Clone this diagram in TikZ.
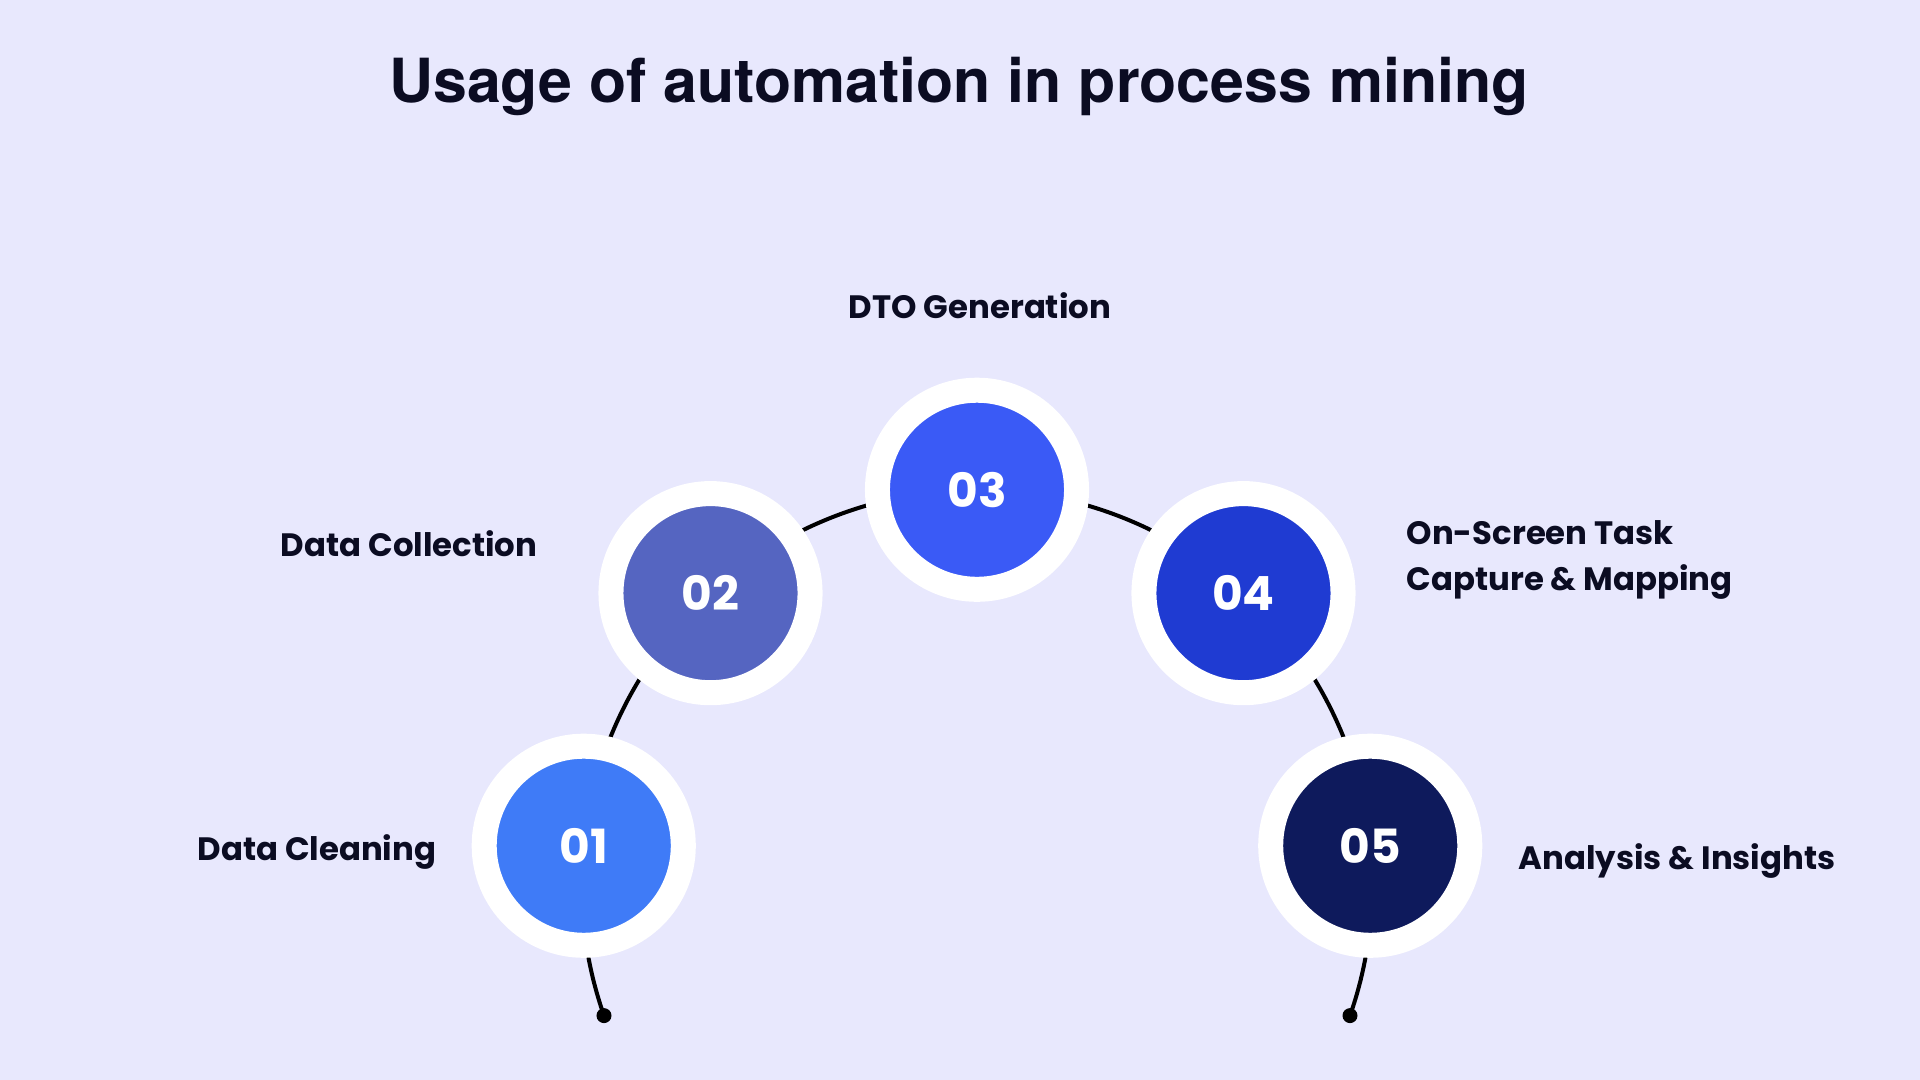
\documentclass[tikz,border=0pt]{standalone}
\usepackage{fontspec}
\usetikzlibrary{calc}
\setmainfont{Poppins}
\newfontfamily\titlefont{TeX Gyre Heros}
\newfontfamily\lblfont{Poppins}
\definecolor{bg}{HTML}{E8E8FD}
\definecolor{ink}{HTML}{0B0C22}
\definecolor{cA}{HTML}{3F7BF7}
\definecolor{cB}{HTML}{5565C1}
\definecolor{cC}{HTML}{3A5AF6}
\definecolor{cD}{HTML}{1F3BD2}
\definecolor{cE}{HTML}{0E1A5C}
\begin{document}
\begin{tikzpicture}[x=0.01cm,y=-0.01cm,
  stepcircle/.style={circle,fill=#1,draw=white,line width=0.25cm,minimum size=1.99cm,inner sep=0pt,
    text=white,font=\lblfont\bfseries\fontsize{13.4}{14}\selectfont},
  steplabel/.style={text=ink,inner sep=0pt,font=\lblfont\bfseries\fontsize{9.2}{12.9}\selectfont},
  arcline/.style={draw=black,line width=0.04cm},
  enddot/.style={circle,fill=black,inner sep=0pt,minimum size=0.15cm}]
\fill[bg] (0,0) rectangle (1920,1080);
\useasboundingbox (0,0) rectangle (1920,1080);
\node[text=ink,inner sep=0pt,anchor=base,font=\titlefont\bfseries\fontsize{17.3}{20}\selectfont] (title) at (959,103) {Usage of automation in process mining};
\coordinate (arcc) at (977,885);
\coordinate (startpt) at ($(arcc)+(199.3:3.95cm)$);
\draw[arcline] (startpt) arc[start angle=199.3,end angle=-19.3,radius=3.95cm] coordinate (endpt);
\node[enddot] (dotL) at (startpt) {};
\node[enddot] (dotR) at (endpt) {};
\path (arcc) ++(174.3:3.95cm) node[stepcircle=cA] (s1) {\raisebox{-0.07cm}{01}};
\path (arcc) ++(132.4:3.95cm) node[stepcircle=cB] (s2) {02};
\path (arcc) ++(90:3.95cm) node[stepcircle=cC] (s3) {03};
\path (arcc) ++(47.6:3.95cm) node[stepcircle=cD] (s4) {04};
\path (arcc) ++(5.7:3.95cm) node[stepcircle=cE] (s5) {05};
\node[steplabel,anchor=base] (l3) at (980,319) {DTO Generation};
\node[steplabel,anchor=base east] (l2) at (538,557) {Data Collection};
\node[steplabel,anchor=base east] (l1) at (437,861) {Data Cleaning};
\node[steplabel,anchor=west,align=left] (l4) at (1406,560) {On-Screen Task\\Capture \& Mapping};
\node[steplabel,anchor=base west] (l5) at (1518,870) {Analysis \& Insights};
\end{tikzpicture}
\end{document}
